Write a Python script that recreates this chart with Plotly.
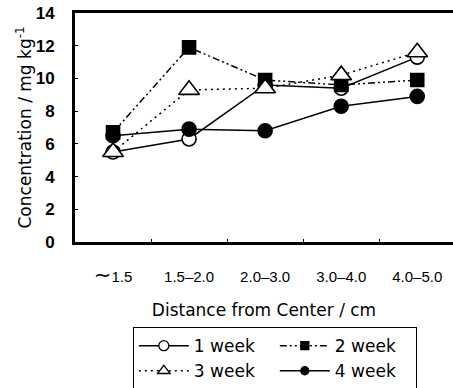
import plotly.graph_objects as go

categories = ["～1.5", "1.5–2.0", "2.0–3.0", "3.0–4.0", "4.0–5.0"]
tick_labels = ["<span style='font-size:21px'>∼</span>1.5", "1.5–2.0", "2.0–3.0", "3.0–4.0", "4.0–5.0"]
week1 = [5.5, 6.3, 9.6, 9.4, 11.3]
week2 = [6.7, 11.9, 9.9, 9.6, 9.9]
week3 = [5.5, 9.3, 9.4, 10.2, 11.6]
week4 = [6.5, 6.9, 6.8, 8.3, 8.9]
series_names = ["1 week", "2 week", "3 week", "4 week"]
y_ticks = [0, 2, 4, 6, 8, 10, 12, 14]

styles = [
    dict(symbol="circle", size=14, lsize=10, dash="solid", fill="white"),
    dict(symbol="square", size=13, lsize=8, dash="7px,3px,2px,3px,2px,3px", fill="black"),
    dict(symbol="triangle-up", size=18, lsize=11, dash="2px,4px", fill="white"),
    dict(symbol="circle", size=14, lsize=8, dash="solid", fill="black"),
]

fig = go.Figure()
for name, vals, st in zip(series_names, [week1, week2, week3, week4], styles):
    fig.add_trace(go.Scatter(
        x=categories, y=vals, name=name, mode="lines+markers", showlegend=False,
        line=dict(color="black", width=1.5, dash=st["dash"]),
        marker=dict(symbol=st["symbol"], size=st["size"], color=st["fill"],
                    line=dict(color="black", width=1.6)),
    ))
# legend-only entries with smaller symbols (no data)
for name, st in zip(series_names, styles):
    fig.add_trace(go.Scatter(
        x=[None], y=[None], name=name, mode="lines+markers", showlegend=True,
        line=dict(color="black", width=1.5, dash=st["dash"]),
        marker=dict(symbol=st["symbol"], size=st["lsize"], color=st["fill"],
                    line=dict(color="black", width=1.3)),
    ))

fig.update_layout(
    width=453, height=388,
    margin=dict(l=75, r=0, t=13, b=146),
    paper_bgcolor="white", plot_bgcolor="white",
    showlegend=True,
    legend=dict(
        orientation="h", x=0.153, xanchor="left",
        yref="container", y=0.157, yanchor="top",
        bordercolor="black", borderwidth=1,
        font=dict(family="DejaVu Sans", size=17, color="black"),
        itemwidth=50, entrywidth=76, entrywidthmode="pixels",
        traceorder="normal", tracegroupgap=0,
    ),
    font=dict(family="Liberation Sans", color="black"),
)
fig.update_xaxes(
    type="category", range=[-0.5, 4.47], showgrid=False,
    tickvals=categories, ticktext=tick_labels,
    showline=True, linecolor="black", linewidth=3, mirror=True,
    ticks="inside", ticklen=3, tickwidth=1, tickcolor="black",
    tickson="boundaries",
    tickfont=dict(family="Liberation Sans, DejaVu Sans", size=15, color="black"),
    ticklabelstandoff=19,
    title=dict(text="Distance from Center / cm", standoff=20,
               font=dict(family="DejaVu Sans", size=17, color="black")),
    automargin=False,
)
fig.update_yaxes(
    range=[0, 14], tickvals=y_ticks, showgrid=False, zeroline=False,
    showline=True, linecolor="black", linewidth=3, mirror=False,
    ticks="inside", ticklen=3, tickwidth=1, tickcolor="black",
    tickfont=dict(family="Liberation Sans", size=17, color="black", weight="bold"),
    ticklabelstandoff=14,
    title=dict(text="Concentration / mg kg<sup>-1</sup>", standoff=0,
               font=dict(family="DejaVu Sans", size=17, color="black")),
    automargin=False,
)
fig.write_html("out.html")
